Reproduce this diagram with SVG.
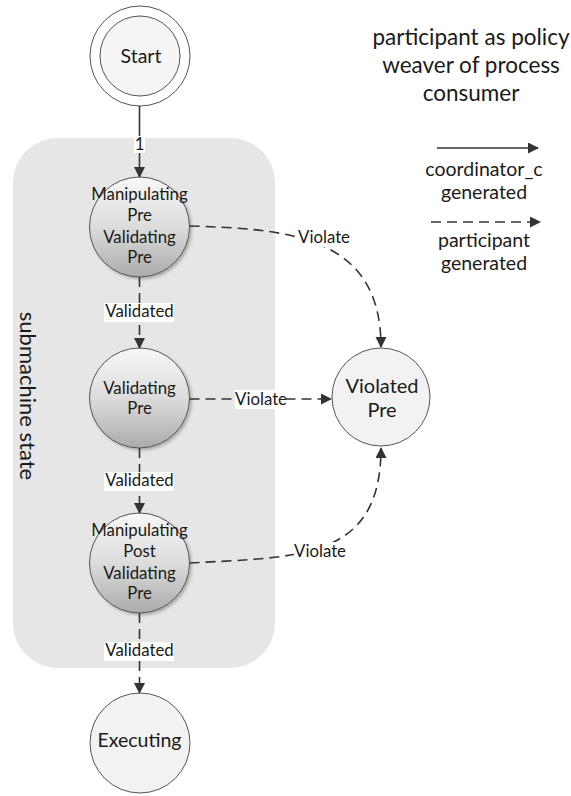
<svg xmlns="http://www.w3.org/2000/svg" width="571" height="796" viewBox="0 0 571 796">
<style>
text{font-family:Lato,"Open Sans","Liberation Sans",sans-serif;fill:#1a1a1a;text-anchor:middle}
.st{fill:url(#g);stroke:#555;stroke-width:1}
.pl{fill:#f2f2f2;stroke:#555;stroke-width:1}
.c{fill:none;stroke:#333;stroke-width:1.6}
.d{stroke-dasharray:10 6}
.nt{font-size:16.8px}
.lb{font-size:16.8px}
.bg{fill:#fff}
.lg{font-size:19.5px}
.tt{font-size:22.5px}
</style>
<defs>
<linearGradient id="g" x1="0" y1="0" x2="0" y2="1">
<stop offset="0" stop-color="#f7f7f7"/>
<stop offset="0.5" stop-color="#dcdcdc"/>
<stop offset="1" stop-color="#ababab"/>
</linearGradient>
<marker id="a" markerWidth="12" markerHeight="12" refX="10" refY="5.5" orient="auto" markerUnits="userSpaceOnUse">
<path d="M0,0 L11,5.5 L0,11 Z" fill="#333"/>
</marker>
<filter id="sh" x="-20%" y="-20%" width="150%" height="150%">
<feDropShadow dx="2" dy="2" stdDeviation="1.5" flood-color="#000" flood-opacity="0.25"/>
</filter>
</defs>
<g id="submachine">
<rect x="13" y="138" width="262" height="530" rx="45" fill="#e6e6e6"/>
<text x="0" y="0" font-size="22" transform="translate(20,396) rotate(90)">submachine state</text>
</g>
<g id="start">
<circle cx="140" cy="56" r="50" class="pl" style="fill:#fff"/>
<circle cx="140" cy="56" r="40" class="pl" style="fill:#f5f5f5"/>
<text x="141" y="63" font-size="19.5">Start</text>
</g>
<g id="n1">
<circle cx="139.5" cy="227" r="50" class="st" filter="url(#sh)"/>
<text class="nt" x="139.5" y="200">Manipulating</text>
<text class="nt" x="139.5" y="221">Pre</text>
<text class="nt" x="139.5" y="243">Validating</text>
<text class="nt" x="139.5" y="263">Pre</text>
</g>
<g id="n2">
<circle cx="139.5" cy="398" r="50" class="st" filter="url(#sh)"/>
<text class="nt" x="139.5" y="394">Validating</text>
<text class="nt" x="139.5" y="414">Pre</text>
</g>
<g id="n3">
<circle cx="139.5" cy="563" r="50" class="st" filter="url(#sh)"/>
<text class="nt" x="139.5" y="536">Manipulating</text>
<text class="nt" x="139.5" y="557">Post</text>
<text class="nt" x="139.5" y="579">Validating</text>
<text class="nt" x="139.5" y="599">Pre</text>
</g>
<g id="executing">
<circle cx="140" cy="743" r="50" class="pl"/>
<text x="139.5" y="747" font-size="19.5">Executing</text>
</g>
<g id="violated">
<circle cx="381" cy="397" r="49" class="pl"/>
<text x="382" y="393" font-size="20">Violated</text>
<text x="382" y="417" font-size="20">Pre</text>
</g>
<g id="connectors">
<line class="c" x1="139.5" y1="106" x2="139.5" y2="177" marker-end="url(#a)"/>
<rect class="bg" x="134" y="136" width="11" height="17"/>
<text class="lb" x="139.5" y="150">1</text>

<line class="c d" x1="139.5" y1="277" x2="139.5" y2="348" marker-end="url(#a)"/>
<rect class="bg" x="104" y="303" width="70" height="19"/>
<text class="lb" x="139.5" y="317">Validated</text>

<line class="c d" x1="139.5" y1="448" x2="139.5" y2="513" marker-end="url(#a)"/>
<rect class="bg" x="104" y="472" width="70" height="19"/>
<text class="lb" x="139.5" y="486">Validated</text>

<line class="c d" x1="139.5" y1="613" x2="139.5" y2="693" marker-end="url(#a)"/>
<rect class="bg" x="104" y="642" width="70" height="19"/>
<text class="lb" x="139.5" y="656">Validated</text>

<path class="c d" d="M189.5,226 C290,229 381,236 381,347" marker-end="url(#a)"/>
<rect x="299" y="228" width="51" height="19" fill="#fff"/>
<text class="lb" x="324" y="243">Violate</text>

<line class="c d" x1="189.5" y1="399" x2="331" y2="399" marker-end="url(#a)"/>
<rect x="235" y="390" width="51" height="19" fill="#fff"/>
<text class="lb" x="261" y="405">Violate</text>

<path class="c d" d="M189.5,563 C300,557 381,560 381,448" marker-end="url(#a)"/>
<rect x="294" y="542" width="52" height="19" fill="#fff"/>
<text class="lb" x="320" y="557">Violate</text>
</g>
<g id="legend">
<text class="tt" x="471" y="45">participant as policy</text>
<text class="tt" x="471" y="73">weaver of process</text>
<text class="tt" x="471" y="101">consumer</text>
<line class="c" x1="437" y1="148" x2="538" y2="148" marker-end="url(#a)"/>
<text class="lg" x="484" y="176">coordinator_c</text>
<text class="lg" x="484" y="199">generated</text>
<line class="c d" x1="431" y1="222" x2="540" y2="222" marker-end="url(#a)"/>
<text class="lg" x="484" y="247">participant</text>
<text class="lg" x="484" y="270">generated</text>
</g>
</svg>
